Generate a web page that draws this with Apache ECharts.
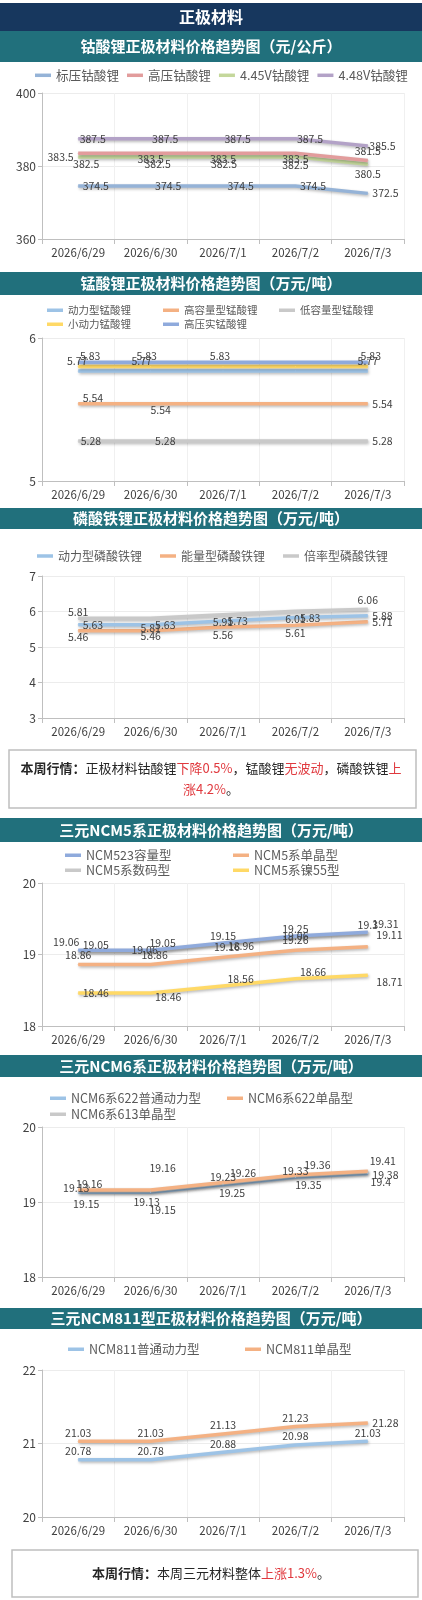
<!DOCTYPE html>
<html>
<head>
<meta charset="utf-8">
<title>正极材料价格趋势</title>
<script src="https://cdn.jsdelivr.net/npm/echarts@6.0.0/dist/echarts.min.js"></script>
<style>
  html, body { margin: 0; padding: 0; background: #fff; }
  #chart { width: 422px; height: 1600px; }
</style>
</head>
<body>
<div id="chart"></div>
<script>
const dates = ['2026/6/29', '2026/6/30', '2026/7/1', '2026/7/2', '2026/7/3'];

// 钴酸锂（元/公斤）
const lcoNames = ['标压钴酸锂', '高压钴酸锂', '4.45V钴酸锂', '4.48V钴酸锂'];
const lcoStandard = [374.5, 374.5, 374.5, 374.5, 372.5];
const lcoHighV = [383.5, 383.5, 383.5, 383.5, 381.5];
const lco445 = [382.5, 382.5, 382.5, 382.5, 380.5];
const lco448 = [387.5, 387.5, 387.5, 387.5, 385.5];
const lcoTicks = [360, 380, 400];

// 锰酸锂（万元/吨）
const lmoNames = ['动力型锰酸锂', '高容量型锰酸锂', '低容量型锰酸锂', '小动力锰酸锂', '高压实锰酸锂'];
const lmoPower = [5.77, 5.77, 5.77, 5.77, 5.77];
const lmoHighCap = [5.54, 5.54, 5.54, 5.54, 5.54];
const lmoLowCap = [5.28, 5.28, 5.28, 5.28, 5.28];
const lmoSmall = [5.8, 5.8, 5.8, 5.8, 5.8];
const lmoHighDensity = [5.83, 5.83, 5.83, 5.83, 5.83];
const lmoTicks = [5, 6];

// 磷酸铁锂（万元/吨）
const lfpNames = ['动力型磷酸铁锂', '能量型磷酸铁锂', '倍率型磷酸铁锂'];
const lfpPower = [5.63, 5.63, 5.73, 5.83, 5.88];
const lfpEnergy = [5.46, 5.46, 5.56, 5.61, 5.71];
const lfpRate = [5.81, 5.81, 5.91, 6.01, 6.06];
const lfpTicks = [3, 4, 5, 6, 7];

// 三元NCM5系（万元/吨）
const ncm5Names = ['NCM523容量型', 'NCM5系单晶型', 'NCM5系数码型', 'NCM5系镍55型'];
const ncm523Cap = [19.06, 19.06, 19.16, 19.26, 19.31];
const ncm5Single = [18.86, 18.86, 18.96, 19.06, 19.11];
const ncm5Digital = [19.05, 19.05, 19.15, 19.25, 19.3];
const ncm5Ni55 = [18.46, 18.46, 18.56, 18.66, 18.71];
const ncm5Ticks = [18, 19, 20];

// 三元NCM6系（万元/吨）
const ncm6Names = ['NCM6系622普通动力型', 'NCM6系622单晶型', 'NCM6系613单晶型'];
const ncm622Power = [19.13, 19.13, 19.23, 19.33, 19.38];
const ncm622Single = [19.16, 19.16, 19.26, 19.36, 19.41];
const ncm613Single = [19.15, 19.15, 19.25, 19.35, 19.4];
const ncm6Ticks = [18, 19, 20];

// 三元NCM811型（万元/吨）
const ncm811Names = ['NCM811普通动力型', 'NCM811单晶型'];
const ncm811Power = [20.78, 20.78, 20.88, 20.98, 21.03];
const ncm811Single = [21.03, 21.03, 21.13, 21.23, 21.28];
const ncm811Ticks = [20, 21, 22];

const FONT = '"Noto Sans CJK SC", "Noto Sans", sans-serif';
const NAVY = '#17375e';
const TEAL = '#21707c';
const TXT = '#404040';
const RED = '#e0393e';

const chart = echarts.init(document.getElementById('chart'));

const grids = [], xAxes = [], yAxes = [], legends = [], series = [], graphics = [];

// label on every point with the same placement
function all(pos, dx, dy) {
  return dates.map((d, i) => [i, pos, dx || 0, dy || 0]);
}

function band(y, h, text, color, size) {
  graphics.push({ type: 'rect', shape: { x: 0, y: y, width: 422, height: h }, style: { fill: color }, z: 1 });
  graphics.push({
    type: 'text', x: 211, y: y + h / 2, z: 2,
    style: { text: text, fill: '#fff', fontSize: size, fontWeight: 'bold', fontFamily: FONT, textAlign: 'center', textVerticalAlign: 'middle' }
  });
}

function lineSeries(gi, s) {
  const data = s.data.map((v, i) => {
    const l = s.labels.find(x => x[0] === i);
    if (!l) return { value: v, label: { show: false } };
    return { value: v, label: { show: true, position: l[1], offset: [l[2], l[3]] } };
  });
  return {
    type: 'line', name: s.name, xAxisIndex: gi, yAxisIndex: gi, data: data,
    color: s.color, symbol: 'circle', symbolSize: 1, showSymbol: true,
    itemStyle: { color: s.color },
    lineStyle: { width: 3.5, color: s.color, shadowColor: 'rgba(0,0,0,0.28)', shadowBlur: 3, shadowOffsetX: 1, shadowOffsetY: 1.5 },
    label: { show: true, color: TXT, fontSize: 10.5, fontFamily: FONT, distance: 4 },
    emphasis: { disabled: true },
    animation: false
  };
}

function legendBase(names, left, top, size, gap) {
  return {
    data: names, left: left, top: top, orient: 'horizontal',
    icon: 'rect', itemWidth: 16, itemHeight: 3.5, itemGap: gap || 0,
    selectedMode: false, padding: 0,
    textStyle: { color: '#595959', fontSize: size, fontFamily: FONT }
  };
}

function addPanel(p) {
  const gi = grids.length;
  band(p.band[0], p.band[1], p.title, TEAL, 15);
  grids.push({ left: 42, right: 18, top: p.top, height: p.height, outerBoundsMode: 'none' });
  xAxes.push({
    type: 'category', gridIndex: gi, data: dates, boundaryGap: true,
    axisLine: { lineStyle: { color: '#bfbfbf' } },
    axisTick: { show: true, length: 5, lineStyle: { color: '#bfbfbf' } },
    axisLabel: { color: '#404040', fontSize: 11.5, fontFamily: FONT, margin: 8, interval: 0 },
    splitLine: { show: true, lineStyle: { color: '#f0f0f0' } }
  });
  const t = p.ticks;
  yAxes.push({
    type: 'value', gridIndex: gi, min: t[0], max: t[t.length - 1], interval: t[1] - t[0],
    axisLine: { show: true, lineStyle: { color: '#bfbfbf' } },
    axisTick: { show: true, length: 4, lineStyle: { color: '#bfbfbf' } },
    axisLabel: { color: '#404040', fontSize: 12, fontFamily: FONT, margin: 6 },
    splitLine: { show: true, lineStyle: { color: '#ececec' } }
  });
  p.legends.forEach(l => {
    if (l.col) {
      // one legend per item so the columns line up
      l.names.forEach((n, k) => legends.push(legendBase([n], l.left + k * l.col, l.top, l.size)));
    } else {
      legends.push(legendBase(l.names, l.left, l.top, l.size, l.gap));
    }
  });
  p.series.forEach(s => series.push(lineSeries(gi, s)));
}

function noteBox(y, h, x0, x1, text, lh) {
  graphics.push({ type: 'rect', shape: { x: x0, y: y, width: x1 - x0, height: h }, style: { fill: '#fff', stroke: '#bfbfbf', lineWidth: 1.5 }, z: 1 });
  const base = { fontSize: 13, fontFamily: FONT, fill: '#262626' };
  graphics.push({
    type: 'text', x: 211, y: y + h / 2, z: 2,
    style: Object.assign({}, base, {
      text: text, textAlign: 'center', textVerticalAlign: 'middle', lineHeight: lh,
      rich: {
        b: Object.assign({}, base, { fontWeight: 'bold', lineHeight: lh }),
        r: Object.assign({}, base, { fill: RED, lineHeight: lh })
      }
    })
  });
}

// header
band(3, 28, '正极材料', NAVY, 16);

addPanel({
  band: [31, 31], title: '钴酸锂正极材料价格趋势图（元/公斤）', top: 93, height: 146, ticks: lcoTicks,
  legends: [{ names: lcoNames, left: 35, top: 69, size: 12.6, gap: 8 }],
  series: [
    { name: lcoNames[2], data: lco445, color: '#c4d79b', labels: [[0, 'bottom', 8, -3], [1, 'bottom', 7, -3], [2, 'bottom', 1, -3], [3, 'bottom', 0, -2], [4, 'bottom', 0, 0]] },
    { name: lcoNames[1], data: lcoHighV, color: '#e29c9c', labels: [[0, 'left', 0, 4], [1, 'bottom', 0, -4], [2, 'bottom', 0, -4], [3, 'bottom', 0, -4], [4, 'top', 0, 0]] },
    { name: lcoNames[0], data: lcoStandard, color: '#95b3d7', labels: all('right') },
    { name: lcoNames[3], data: lco448, color: '#b3a2c7', labels: all('right', -3, 0) }
  ]
});

addPanel({
  band: [272, 23], title: '锰酸锂正极材料价格趋势图（万元/吨）', top: 338, height: 143, ticks: lmoTicks,
  legends: [
    { names: lmoNames.slice(0, 3), left: 47, top: 305, size: 10.5, col: 116 },
    { names: lmoNames.slice(3), left: 47, top: 319, size: 10.5, col: 116 }
  ],
  series: [
    { name: lmoNames[2], data: lmoLowCap, color: '#c9c9c9', labels: [[0, 'right', -2, 0], [1, 'right', 0, 0], [4, 'right', 0, 0]] },
    { name: lmoNames[1], data: lmoHighCap, color: '#f4b183', labels: [[0, 'right', 0, -6], [1, 'bottom', 10, -4], [4, 'right', 0, 0]] },
    { name: lmoNames[0], data: lmoPower, color: '#9dc3e6', labels: [[0, 'top', -1, 0], [1, 'top', -9, 0], [4, 'top', 0, 0]] },
    { name: lmoNames[3], data: lmoSmall, color: '#ffd966', labels: [] },
    { name: lmoNames[4], data: lmoHighDensity, color: '#8faadc', labels: [[0, 'top', 12, 3], [1, 'top', -4, 3], [2, 'top', -3, 3], [4, 'top', 3, 3]] }
  ]
});

addPanel({
  band: [508, 21], title: '磷酸铁锂正极材料价格趋势图（万元/吨）', top: 576, height: 142, ticks: lfpTicks,
  legends: [{ names: lfpNames, left: 37, top: 550, size: 12, col: 123 }],
  series: [
    { name: lfpNames[2], data: lfpRate, color: '#c9c9c9', labels: [[0, 'top', 0, 4], [1, 'bottom', 0, 0], [2, 'bottom', 0, -2], [3, 'bottom', 0, -2], [4, 'top', 0, 0]] },
    { name: lfpNames[1], data: lfpEnergy, color: '#f4b183', labels: [[0, 'bottom', 0, -3], [1, 'bottom', 0, -4], [2, 'bottom', 0, -2], [3, 'bottom', 0, -2], [4, 'right', 0, 0]] },
    { name: lfpNames[0], data: lfpPower, color: '#9dc3e6', labels: all('right') }
  ]
});

noteBox(750, 58, 9, 416,
  '{b|本周行情：}正极材料钴酸锂{r|下降0.5%}，锰酸锂{r|无波动}，磷酸铁锂{r|上}\n{r|涨4.2%}。', 21);

addPanel({
  band: [818, 24], title: '三元NCM5系正极材料价格趋势图（万元/吨）', top: 883, height: 143, ticks: ncm5Ticks,
  legends: [
    { names: ncm5Names.slice(0, 2), left: 65, top: 849, size: 12.5, col: 168 },
    { names: ncm5Names.slice(2), left: 65, top: 864, size: 12.5, col: 168 }
  ],
  series: [
    { name: ncm5Names[2], data: ncm5Digital, color: '#c9c9c9', labels: [[0, 'right', 0, -6], [1, 'top', 12, 2], [2, 'top', 0, 2], [3, 'top', 0, 2], [4, 'top', 0, 2]] },
    { name: ncm5Names[0], data: ncm523Cap, color: '#8faadc', labels: [[0, 'top', -12, 2], [1, 'bottom', -6, -10], [2, 'bottom', 4, -6], [3, 'bottom', 0, -6], [4, 'right', 0, -8]] },
    { name: ncm5Names[1], data: ncm5Single, color: '#f4b183', labels: [[0, 'top', 0, 0], [1, 'top', 4, 0], [2, 'top', 18, -2], [3, 'top', 0, -4], [4, 'right', 4, -12]] },
    { name: ncm5Names[3], data: ncm5Ni55, color: '#ffd966', labels: [[0, 'right', 0, 0], [1, 'right', 0, 4], [2, 'right', 0, -7], [3, 'right', 0, -7], [4, 'right', 4, 7]] }
  ]
});

addPanel({
  band: [1055, 22], title: '三元NCM6系正极材料价格趋势图（万元/吨）', top: 1127, height: 150, ticks: ncm6Ticks,
  legends: [
    { names: ncm6Names.slice(0, 2), left: 50, top: 1092, size: 12.5, col: 177 },
    { names: ncm6Names.slice(2), left: 50, top: 1108, size: 12.5, col: 177 }
  ],
  series: [
    { name: ncm6Names[0], data: ncm622Power, color: '#9dc3e6', labels: [[0, 'top', -2, 6], [1, 'bottom', -4, 0], [2, 'top', 0, 2], [3, 'top', 0, 4], [4, 'right', 0, 2]] },
    { name: ncm6Names[2], data: ncm613Single, color: '#c9c9c9', labels: [[0, 'bottom', 8, 4], [1, 'bottom', 12, 10], [2, 'bottom', 9, 0], [3, 'bottom', 13, 0], [4, 'bottom', 13, 0]] },
    { name: ncm6Names[1], data: ncm622Single, color: '#f4b183', labels: [[0, 'top', 11, 4], [1, 'top', 12, -12], [2, 'top', 20, 0], [3, 'top', 22, 0], [4, 'top', 15, 0]] }
  ]
});

addPanel({
  band: [1308, 21], title: '三元NCM811型正极材料价格趋势图（万元/吨）', top: 1370, height: 147, ticks: ncm811Ticks,
  legends: [{ names: ncm811Names, left: 68, top: 1343, size: 12.5, col: 177 }],
  series: [
    { name: ncm811Names[0], data: ncm811Power, color: '#9dc3e6', labels: all('top', 0, 1) },
    { name: ncm811Names[1], data: ncm811Single, color: '#f4b183', labels: [[0, 'top', 0, 1], [1, 'top', 0, 1], [2, 'top', 0, 1], [3, 'top', 0, 1], [4, 'right', 0, 0]] }
  ]
});

noteBox(1550, 47, 12, 418, '{b|本周行情：}本周三元材料整体{r|上涨1.3%}。', 20);

chart.setOption({
  backgroundColor: '#fff',
  animation: false,
  textStyle: { fontFamily: FONT },
  grid: grids,
  xAxis: xAxes,
  yAxis: yAxes,
  legend: legends,
  series: series,
  graphic: { elements: graphics }
});
</script>
</body>
</html>
